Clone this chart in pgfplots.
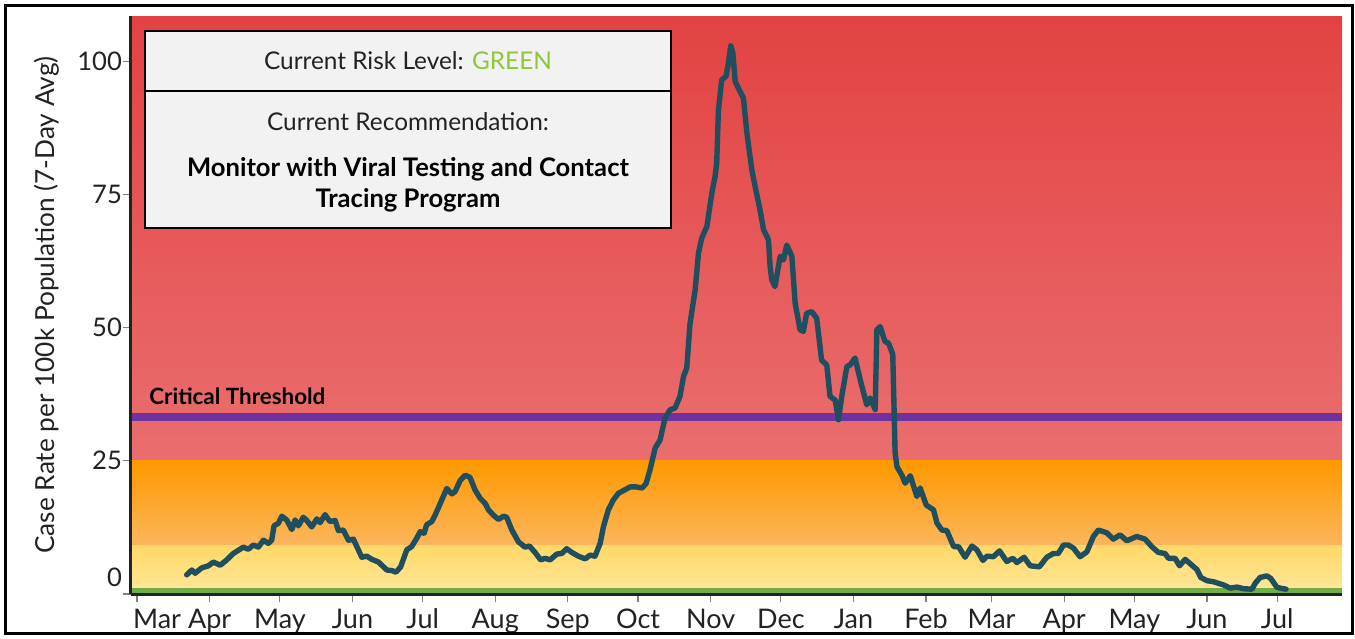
\documentclass[border=0pt]{standalone}
\usepackage{fontspec}
\setmainfont{Lato}
\usepackage{pgfplots}
\pgfplotsset{compat=1.18}
\definecolor{redtop}{RGB}{227,66,66}
\definecolor{redbot}{RGB}{234,110,110}
\definecolor{orgtop}{RGB}{255,153,0}
\definecolor{orgbot}{RGB}{252,182,92}
\definecolor{yeltop}{RGB}{255,216,102}
\definecolor{yelbot}{RGB}{255,230,150}
\definecolor{grn}{RGB}{112,173,71}
\definecolor{thresh}{RGB}{112,50,160}
\definecolor{curve}{RGB}{31,78,95}
\definecolor{axisdark}{RGB}{34,34,34}
\definecolor{boxfill}{RGB}{242,242,242}
\definecolor{riskgreen}{RGB}{141,198,63}
\begin{document}
\begin{tikzpicture}
\path[use as bounding box] (-65.5pt,-22pt) rectangle (612pt,297pt);
\begin{axis}[
  at={(0pt,0pt)}, anchor=south west,
  scale only axis, width=605.5pt, height=289pt,
  xmin=-2.6, xmax=514.7, ymin=0, ymax=108.5,
  axis lines*=left,
  axis line style={line width=1.5pt, color=axisdark},
  axis on top,
  xtick={0,31,61,92,122,153,184,214,245,275,306,337,365,396,426,457,487},
  xticklabels={\rlap{\hspace{-2pt}Mar},Apr,May,Jun,Jul,Aug,Sep,Oct,Nov,Dec,Jan,Feb,Mar,Apr,May,Jun,Jul},
  ytick={0,25,50,75,100},
  yticklabels={\smash{\raisebox{3.7pt}{0}},25,50,75,100},
  tick align=outside, major tick length=4pt,
  tick style={color=gray, line width=0.6pt},
  xticklabel style={font=\fontsize{13.5}{15}\selectfont, text=axisdark},
  yticklabel style={font=\fontsize{12.8}{15}\selectfont, text=axisdark, xshift=3pt},
  ylabel={Case Rate per 100k Population (7-Day Avg)},
  ylabel style={at={(axis description cs:-0.0694,0.5)}, anchor=center, font=\fontsize{13.1}{15}\selectfont, text=axisdark},
]
% risk bands
\addplot[draw=none, top color=redtop, bottom color=redbot] coordinates {(-2.6,25) (514.7,25) (514.7,108.5) (-2.6,108.5)} -- cycle;
\addplot[draw=none, top color=orgtop, bottom color=orgbot] coordinates {(-2.6,9.1) (514.7,9.1) (514.7,25) (-2.6,25)} -- cycle;
\addplot[draw=none, top color=yeltop, bottom color=yelbot] coordinates {(-2.6,1.1) (514.7,1.1) (514.7,9.1) (-2.6,9.1)} -- cycle;
\addplot[draw=none, fill=grn] coordinates {(-2.6,0) (514.7,0) (514.7,1.1) (-2.6,1.1)} -- cycle;
% critical threshold
\addplot[thresh, line width=4pt] coordinates {(-2.6,33.3) (514.7,33.3)};
\node[anchor=west, font=\bfseries\fontsize{11.2}{13}\selectfont, inner sep=0pt] at (axis cs:5.1,37.2) {Critical Threshold};
% case rate
\addplot[curve, line width=2.7pt, line join=round, line cap=round] coordinates {
(21.2,3.6) (23.4,4.5) (24.8,3.9) (27.6,4.9) (30.5,5.3) (32.6,6.0) (35.5,5.4) (38.3,6.4)
(41.1,7.6) (45.4,8.8) (47.5,8.4) (49.7,9.2) (51.8,8.8) (54.0,10.1) (56.1,9.5) (57.5,10.1)
(58.5,12.8) (60.4,13.3) (61.8,14.6) (63.9,13.9) (66.1,12.1) (67.5,13.9) (68.9,12.8) (71.0,14.4)
(72.5,13.8) (74.6,12.6) (76.8,14.1) (78.2,13.4) (80.3,14.9) (82.4,13.6) (84.6,13.8) (86.0,11.9)
(88.1,12.0) (90.3,10.1) (92.4,10.3) (94.5,8.3) (96.0,6.9) (98.1,7.1) (100.3,6.5) (103.1,6.0)
(106.7,4.5) (108.8,4.4) (110.6,4.1) (112.6,5.1) (115.2,8.3) (117.3,8.9) (119.5,10.5) (120.9,11.7)
(122.6,11.4) (123.7,13.0) (125.9,13.6) (127.3,14.8) (130.2,17.7) (132.3,19.8) (134.4,18.8) (135.8,19.2)
(138.0,21.3) (140.1,22.3) (142.2,21.9) (144.4,19.5) (146.5,18.0) (148.7,17.0) (150.1,15.8) (152.2,14.8)
(154.4,14.0) (156.5,14.6) (157.9,14.4) (160.1,12.0) (162.9,9.8) (165.7,8.8) (167.6,9.0) (170.0,7.8)
(172.4,6.4) (174.3,6.7) (176.4,6.4) (179.3,7.5) (181.4,7.6) (183.5,8.5) (185.7,7.8) (188.5,7.1)
(191.4,6.6) (193.5,7.3) (195.6,7.1) (197.8,9.5) (199.2,12.6) (201.3,15.8) (203.5,17.7) (205.6,18.9)
(207.7,19.4) (210.6,20.1) (213.2,20.1) (215.7,19.9) (217.4,20.7) (219.1,23.3) (221.3,27.4) (223.4,28.9)
(225.5,33.0) (227.7,34.6) (229.8,34.9) (231.9,37.1) (233.4,40.8) (234.8,42.4) (236.2,50.8) (238.4,57.1)
(239.8,64.0) (241.2,66.8) (243.4,69.0) (245.5,75.2) (246.9,78.4) (247.6,80.9) (248.3,90.6) (249.7,96.5)
(251.6,97.2) (252.6,99.7) (253.6,102.9) (254.5,101.5) (255.5,96.2) (257.6,94.3) (259.0,93.1) (260.5,86.5)
(262.6,79.6) (264.0,76.5) (266.1,72.1) (267.6,68.4) (269.7,66.5) (270.4,61.5) (271.1,59.0) (272.5,57.7)
(274.7,63.4) (276.1,62.7) (277.5,65.5) (279.7,63.4) (281.1,54.6) (283.2,49.6) (284.6,49.3) (286.0,52.7)
(288.2,53.0) (290.3,51.8) (292.4,43.9) (294.6,43.0) (296.0,37.1) (298.2,36.4) (299.6,32.7) (301.0,37.1)
(303.2,42.7) (304.6,43.0) (306.7,44.3) (308.9,40.2) (311.7,35.5) (313.1,36.8) (315.3,34.6) (316.0,49.6)
(317.4,50.2) (319.5,47.4) (321.0,47.1) (322.8,45.0) (323.8,26.5) (324.6,23.9) (326.7,22.3) (328.1,20.8)
(330.3,22.2) (333.1,18.3) (334.5,19.9) (337.1,16.7) (340.2,15.8) (341.7,13.3) (343.8,12.0) (345.9,11.9)
(348.8,8.9) (350.9,8.9) (353.7,6.9) (356.6,9.0) (358.7,8.3) (361.3,6.3) (363.0,7.1) (365.8,7.0)
(368.4,8.1) (371.5,6.1) (374.1,6.7) (375.8,5.9) (378.9,6.9) (381.5,5.3) (385.4,5.1) (388.6,6.9)
(391.4,7.6) (393.5,7.6) (395.7,9.2) (397.8,9.2) (400.0,8.6) (402.8,7.0) (405.7,7.9) (408.5,10.8)
(410.6,12.0) (414.2,11.5) (417.0,10.3) (419.9,11.1) (422.8,10.0) (427.0,10.8) (430.6,10.3) (433.4,8.9)
(436.3,7.8) (439.1,7.6) (440.6,6.7) (443.4,6.7) (445.3,5.3) (447.7,6.5) (450.6,5.4) (452.7,4.6)
(454.4,3.1) (457.0,2.5) (459.8,2.3) (464.1,1.7) (467.0,1.1) (469.8,1.3) (472.6,1.0) (476.2,0.9)
(477.6,2.0) (479.7,3.1) (482.6,3.4) (484.3,2.9) (486.8,1.3) (488.3,1.1) (490.8,0.9)
};
\end{axis}
% info box
\draw[fill=boxfill, line width=1.2pt] (7pt,183pt) rectangle (270pt,281.5pt);
\draw[line width=1.2pt] (7pt,251.5pt) -- (270pt,251.5pt);
\node[font=\fontsize{12.2}{14}\selectfont, text=axisdark] at (138.5pt,266.5pt) {Current Risk Level: \textcolor{riskgreen}{GREEN}};
\node[font=\fontsize{12.2}{14}\selectfont, text=axisdark] at (138.5pt,236pt) {Current Recommendation:};
\node[font=\bfseries\fontsize{12.8}{15.5}\selectfont, align=center] at (138.5pt,204.5pt) {Monitor with Viral Testing and Contact\\Tracing Program};
% outer frame
\draw[line width=1.5pt] (-62.75pt,-19.5pt) rectangle (610.5pt,294.25pt);
\end{tikzpicture}
\end{document}
